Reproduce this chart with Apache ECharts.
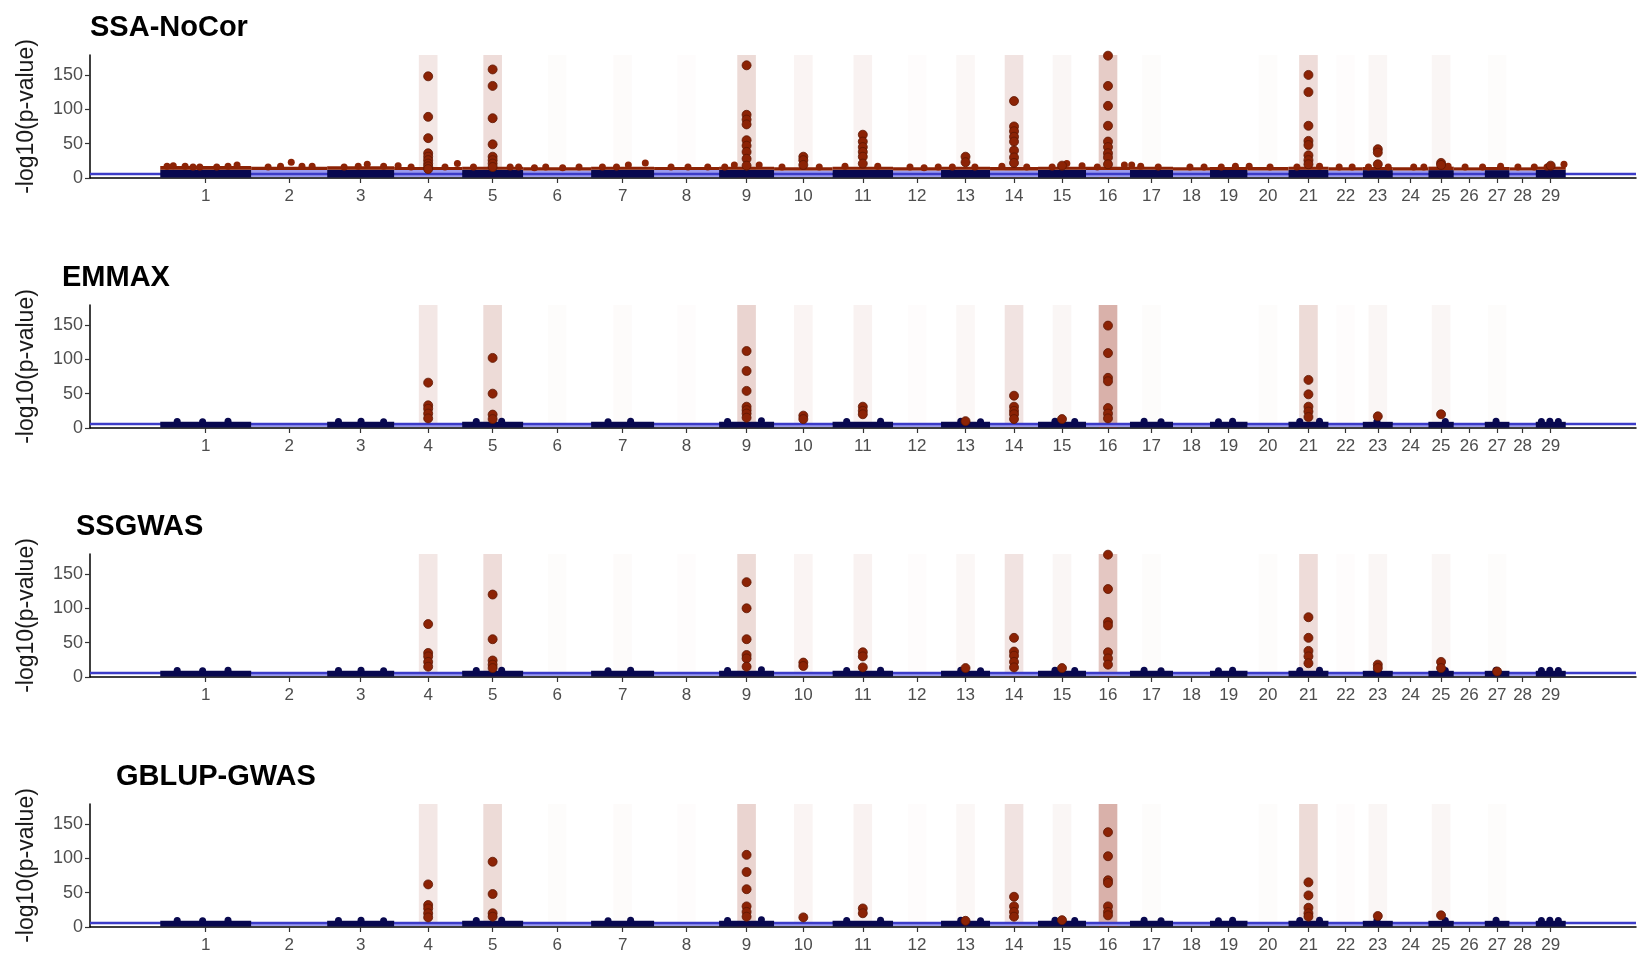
<!DOCTYPE html>
<html>
<head>
<meta charset="utf-8">
<title>Manhattan plots</title>
<script src="https://cdn.jsdelivr.net/npm/echarts@6.0.0/dist/echarts.min.js"></script>
<style>
  html, body { margin: 0; padding: 0; background: #fff; }
  #chart { width: 1650px; height: 962px; }
</style>
</head>
<body>
<div id="chart"></div>
<script>
// chromosomes and their lengths (Mb)
const chromNames = ['1', '2', '3', '4', '5', '6', '7', '8', '9', '10', '11', '12', '13', '14', '15',
  '16', '17', '18', '19', '20', '21', '22', '23', '24', '25', '26', '27', '28', '29'];
const chromLen = [161, 134.6, 118.7, 120.4, 108, 120.4, 111.6, 115.1, 97.4, 103.6, 107.1, 85, 86.8, 85, 85,
  77.9, 76.2, 65.5, 66.4, 72.6, 70.8, 60.9, 53.1, 63, 45, 54.9, 43.7, 46.6, 53.1];

const panelTitles = ['SSA-NoCor', 'EMMAX', 'SSGWAS', 'GBLUP-GWAS'];
const yTicks = [0, 50, 100, 150];
const yMax = 179;
const threshold = 5.8;

// highlight level of each chromosome (0..1)
const bandSSA = [0, 0, 0, 0.27, 0.4, 0.04, 0.05, 0.03, 0.42, 0.13, 0.15, 0.03, 0.1, 0.32, 0.11,
  0.6, 0.04, 0, 0, 0.04, 0.4, 0.03, 0.11, 0, 0.11, 0, 0.04, 0, 0];
const bandEMMAX = [0, 0, 0, 0.27, 0.42, 0.04, 0.05, 0.03, 0.5, 0.13, 0.15, 0.03, 0.1, 0.32, 0.11,
  0.9, 0.04, 0, 0, 0.04, 0.42, 0.03, 0.11, 0, 0.11, 0, 0.04, 0, 0];
const bandSSGWAS = [0, 0, 0, 0.27, 0.4, 0.04, 0.05, 0.03, 0.42, 0.13, 0.15, 0.03, 0.1, 0.32, 0.11,
  0.65, 0.04, 0, 0, 0.04, 0.4, 0.03, 0.11, 0, 0.11, 0, 0.04, 0, 0];
const bandGBLUP = [0, 0, 0, 0.27, 0.42, 0.04, 0.05, 0.03, 0.5, 0.13, 0.15, 0.03, 0.1, 0.32, 0.11,
  0.9, 0.04, 0, 0, 0.04, 0.42, 0.03, 0.11, 0, 0.11, 0, 0.04, 0, 0];

// top of the dense cloud of non-significant SNPs, per chromosome
const stripTopSSA = [12, 11.5, 12, 11.5, 12, 11, 12, 11.5, 12, 11, 12, 11, 12, 11, 12,
  11.5, 12, 11, 11.5, 11, 12, 11, 11.5, 11, 11.5, 11, 11.5, 11, 12];
const fringeTopSSA = [17.5, 16.5, 17, 16, 16.5, 15.5, 16.5, 16, 16.5, 15.5, 16.5, 15.5, 16.5, 16, 16.5,
  16.5, 16.5, 15.5, 16, 16, 16.5, 15.5, 16, 15.5, 16.5, 15.5, 16, 15.5, 16.5];
const stripTopMixed = [9, 5, 9, 5, 9, 5, 9, 5, 9, 5, 9, 5, 9, 5, 9,
  5, 9, 5, 9, 5, 9, 5, 9, 5, 9, 5, 9, 5, 9];

// single SNPs sticking out of the cloud: [chromosome, position (Mb), -log10 p]
const bumpsSSA = [[1, 12, 17], [1, 23, 18], [1, 44, 17], [1, 58, 16], [1, 70, 16], [1, 100, 16], [1, 120, 17], [1, 136, 19],
  [2, 30, 16], [2, 52, 17], [2, 71, 23], [2, 90, 17], [2, 108, 17], [3, 30, 16], [3, 55, 17], [3, 71, 20], [3, 100, 17],
  [4, 7, 18], [4, 30, 16], [4, 90, 16], [4, 112, 21], [5, 20, 16], [5, 85, 16], [5, 100, 16],
  [6, 20, 15], [6, 40, 16], [6, 70, 15], [6, 99, 16], [7, 20, 16], [7, 45, 16], [7, 66, 19], [7, 96, 22],
  [8, 30, 16], [8, 60, 16], [8, 95, 16], [9, 10, 16], [9, 27, 19], [9, 71, 19], [10, 14, 16], [10, 80, 16],
  [11, 22, 17], [11, 80, 17], [12, 30, 16], [12, 55, 15], [12, 80, 16], [13, 20, 16], [13, 60, 16],
  [14, 21, 17], [14, 65, 16], [15, 25, 16], [15, 51, 21], [15, 78, 18],
  [16, 20, 16], [16, 68, 19], [17, 3, 19], [17, 19, 17], [17, 50, 16], [18, 30, 16], [18, 55, 16],
  [19, 20, 16], [19, 45, 17], [20, 3, 17], [20, 40, 16], [21, 15, 16], [21, 55, 17], [22, 19, 16], [22, 42, 16],
  [23, 10, 16], [23, 45, 16], [24, 37, 16], [24, 55, 16], [25, 35, 17], [26, 20, 16], [26, 51, 16],
  [27, 28, 17], [28, 15, 16], [28, 44, 16], [29, 20, 16], [29, 50, 20]];
const bumpsMixed = [[1, 30, 9.5], [1, 75, 9], [1, 120, 10], [3, 20, 9.5], [3, 60, 10], [3, 100, 9],
  [5, 25, 9.5], [5, 70, 10], [7, 30, 9], [7, 70, 10], [9, 15, 9.5], [9, 75, 10.5], [11, 25, 9.5], [11, 85, 10],
  [13, 35, 10], [13, 70, 9], [15, 30, 10], [15, 65, 9.5], [17, 25, 10], [17, 55, 9], [19, 15, 9], [19, 40, 10],
  [21, 20, 9.5], [21, 55, 10], [23, 25, 9.5], [25, 30, 9.5], [27, 20, 10], [29, 10, 9.5], [29, 25, 10], [29, 40, 9.5]];

// significant SNPs at the peak of each highlighted chromosome: [chromosome, [-log10 p ...]]
const peaksSSA = [
  [4, [148, 89, 58, 36, 31, 26, 21, 17, 13]],
  [5, [158, 134, 87, 49, 31, 26, 21, 16]],
  [9, [164, 92, 85, 78, 55, 47, 38, 28, 18]],
  [10, [31, 26, 19]],
  [11, [63, 53, 45, 38, 31, 21]],
  [13, [31, 23]],
  [14, [112, 75, 68, 60, 53, 40, 30, 22]],
  [15, [18]],
  [16, [178, 134, 105, 76, 53, 45, 36, 30, 20]],
  [21, [150, 125, 76, 54, 48, 33, 26, 20]],
  [23, [42, 37, 20]],
  [25, [22, 19]],
  [29, [18]]
];
const peaksEMMAX = [
  [4, [66, 33, 28, 21, 14]],
  [5, [102, 50, 19.5, 13]],
  [9, [112, 83, 54, 31, 26, 21, 15]],
  [10, [18, 13]],
  [11, [31, 25, 20]],
  [13, [10]],
  [14, [47, 31, 25, 20, 13]],
  [15, [13]],
  [16, [149, 109, 73, 68, 29, 21, 14]],
  [21, [70, 49, 31, 24, 16]],
  [23, [17]],
  [25, [20]]
];
const peaksSSGWAS = [
  [4, [77, 35, 30, 22, 15]],
  [5, [120, 55, 24, 18, 13]],
  [9, [138, 100, 55, 32, 27, 15]],
  [10, [21, 16]],
  [11, [36, 30, 14]],
  [13, [13]],
  [14, [57, 37, 31, 22, 14]],
  [15, [13]],
  [16, [178, 128, 80, 75, 36, 27, 18]],
  [21, [87, 57, 38, 30, 20]],
  [23, [18, 13]],
  [25, [22, 13]],
  [27, [8]]
];
const peaksGBLUP = [
  [4, [62, 32, 27, 20, 14]],
  [5, [95, 48, 20, 15]],
  [9, [105, 80, 55, 30, 22, 15]],
  [10, [14]],
  [11, [27, 20]],
  [13, [9]],
  [14, [44, 30, 22, 15]],
  [15, [10]],
  [16, [138, 103, 68, 64, 30, 22, 17]],
  [21, [65, 46, 28, 20, 15]],
  [23, [16]],
  [25, [17]]
];

const RED = '#8c2305';
const NAVY = '#08084f';
const LAVENDER = '#9a9aee';
const fontFamily = '"Liberation Sans", Arial, Helvetica, sans-serif';

// cumulative positions
const chromStart = [];
let acc = 0;
chromLen.forEach(l => { chromStart.push(acc); acc += l; });
const genomeLen = acc;
const chromMid = chromLen.map((l, i) => chromStart[i] + l / 2);
const xMin = -0.05 * genomeLen;
const xMax = 1.05 * genomeLen;
const bandHalf = 16.5;
const midLabel = {};
chromMid.forEach((m, i) => { midLabel[m.toFixed(3)] = chromNames[i]; });

const panels = [
  { title: panelTitles[0], band: bandSSA, strip: stripTopSSA, fringe: fringeTopSSA, bumps: bumpsSSA, bumpColor: RED, peaks: peaksSSA, left: 85 },
  { title: panelTitles[1], band: bandEMMAX, strip: stripTopMixed, fringe: null, bumps: bumpsMixed, bumpColor: NAVY, peaks: peaksEMMAX, left: 57 },
  { title: panelTitles[2], band: bandSSGWAS, strip: stripTopMixed, fringe: null, bumps: bumpsMixed, bumpColor: NAVY, peaks: peaksSSGWAS, left: 71 },
  { title: panelTitles[3], band: bandGBLUP, strip: stripTopMixed, fringe: null, bumps: bumpsMixed, bumpColor: NAVY, peaks: peaksGBLUP, left: 111 }
];

const gridTops = [55, 305, 554, 804];
const gridHeight = 123;

// rectangles: [x0, x1, y0, y1, extra]
function rectRender(fill) {
  return function (params, api) {
    const p0 = api.coord([api.value(0), api.value(3)]);
    const p1 = api.coord([api.value(1), api.value(2)]);
    return {
      type: 'rect',
      shape: { x: p0[0], y: p0[1], width: p1[0] - p0[0], height: p1[1] - p0[1] },
      style: { fill: fill(api.value(4)) }
    };
  };
}

const grids = [], xAxes = [], yAxes = [], titles = [], series = [];

panels.forEach((p, k) => {
  grids.push({ left: 90, right: 14, top: gridTops[k], height: gridHeight });
  titles.push({
    text: p.title, left: p.left, top: gridTops[k] - 47,
    textStyle: { fontFamily, fontSize: 29, fontWeight: 'bold', color: '#000' }
  });
  xAxes.push({
    type: 'value', gridIndex: k, min: xMin, max: xMax,
    axisLine: { show: true, onZero: false, lineStyle: { color: '#000', width: 1.5 } },
    axisTick: { show: true, customValues: chromMid, length: 5, lineStyle: { color: '#333', width: 1.2 } },
    axisLabel: {
      customValues: chromMid, margin: 10, fontFamily, fontSize: 17, color: '#4d4d4d',
      formatter: v => midLabel[v.toFixed(3)] || ''
    },
    splitLine: { show: false }
  });
  yAxes.push({
    type: 'value', gridIndex: k, min: 0, max: yMax,
    name: '-log10(p-value)', nameLocation: 'middle', nameGap: 52, nameRotate: 90,
    nameTextStyle: { fontFamily, fontSize: 23, color: '#1a1a1a' },
    axisLine: { show: true, onZero: false, lineStyle: { color: '#000', width: 1.5 } },
    axisTick: { show: true, customValues: yTicks, length: 5, lineStyle: { color: '#333', width: 1.2 } },
    axisLabel: { customValues: yTicks, margin: 7, fontFamily, fontSize: 18, color: '#4d4d4d' },
    splitLine: { show: false }
  });

  // highlighted chromosomes
  series.push({
    type: 'custom', xAxisIndex: k, yAxisIndex: k, z: 1, silent: true,
    encode: { x: [0, 1], y: [2, 3] },
    renderItem: rectRender(lvl => 'rgba(150,40,20,' + (lvl * 0.4).toFixed(3) + ')'),
    data: p.band.map((lvl, i) => [chromMid[i] - bandHalf, chromMid[i] + bandHalf, 0, yMax, lvl]).filter(d => d[4] > 0)
  });

  // light (even) chromosome clouds
  series.push({
    type: 'custom', xAxisIndex: k, yAxisIndex: k, z: 2, silent: true,
    encode: { x: [0, 1], y: [2, 3] },
    renderItem: rectRender(() => LAVENDER),
    data: p.strip.map((t, i) => [chromStart[i], chromStart[i] + chromLen[i], 1.5, t, i]).filter(d => d[4] % 2 === 1)
  });

  // significance threshold
  series.push({
    type: 'line', xAxisIndex: k, yAxisIndex: k, z: 3, silent: true, symbol: 'none',
    lineStyle: { color: '#3c3cc8', width: 2.5 },
    data: [[xMin, threshold], [xMax, threshold]]
  });

  // dark (odd) chromosome clouds
  series.push({
    type: 'custom', xAxisIndex: k, yAxisIndex: k, z: 4, silent: true,
    encode: { x: [0, 1], y: [2, 3] },
    renderItem: rectRender(() => NAVY),
    data: p.strip.map((t, i) => [chromStart[i], chromStart[i] + chromLen[i], 0.6, t, i]).filter(d => d[4] % 2 === 0)
  });

  if (p.fringe) {
    series.push({
      type: 'custom', xAxisIndex: k, yAxisIndex: k, z: 5, silent: true,
      encode: { x: [0, 1], y: [2, 3] },
      renderItem: rectRender(() => RED),
      data: p.fringe.map((t, i) => [chromStart[i], chromStart[i] + chromLen[i], p.strip[i], t, i])
    });
  }

  series.push({
    type: 'scatter', xAxisIndex: k, yAxisIndex: k, z: 6, silent: true,
    symbolSize: 7,
    itemStyle: { color: p.bumpColor, opacity: 1 },
    data: p.bumps.map(b => [chromStart[b[0] - 1] + b[1], b[2]])
  });

  const peakData = [];
  p.peaks.forEach(([c, vals]) => vals.forEach(v => peakData.push([chromMid[c - 1], v])));
  series.push({
    type: 'scatter', xAxisIndex: k, yAxisIndex: k, z: 7, silent: true,
    symbolSize: 9,
    itemStyle: { color: RED, borderColor: '#5e1603', borderWidth: 0.8, opacity: 1 },
    data: peakData
  });
});

const chart = echarts.init(document.getElementById('chart'));
chart.setOption({
  backgroundColor: '#fff',
  animation: false,
  title: titles,
  grid: grids,
  xAxis: xAxes,
  yAxis: yAxes,
  series: series
});
</script>
</body>
</html>
